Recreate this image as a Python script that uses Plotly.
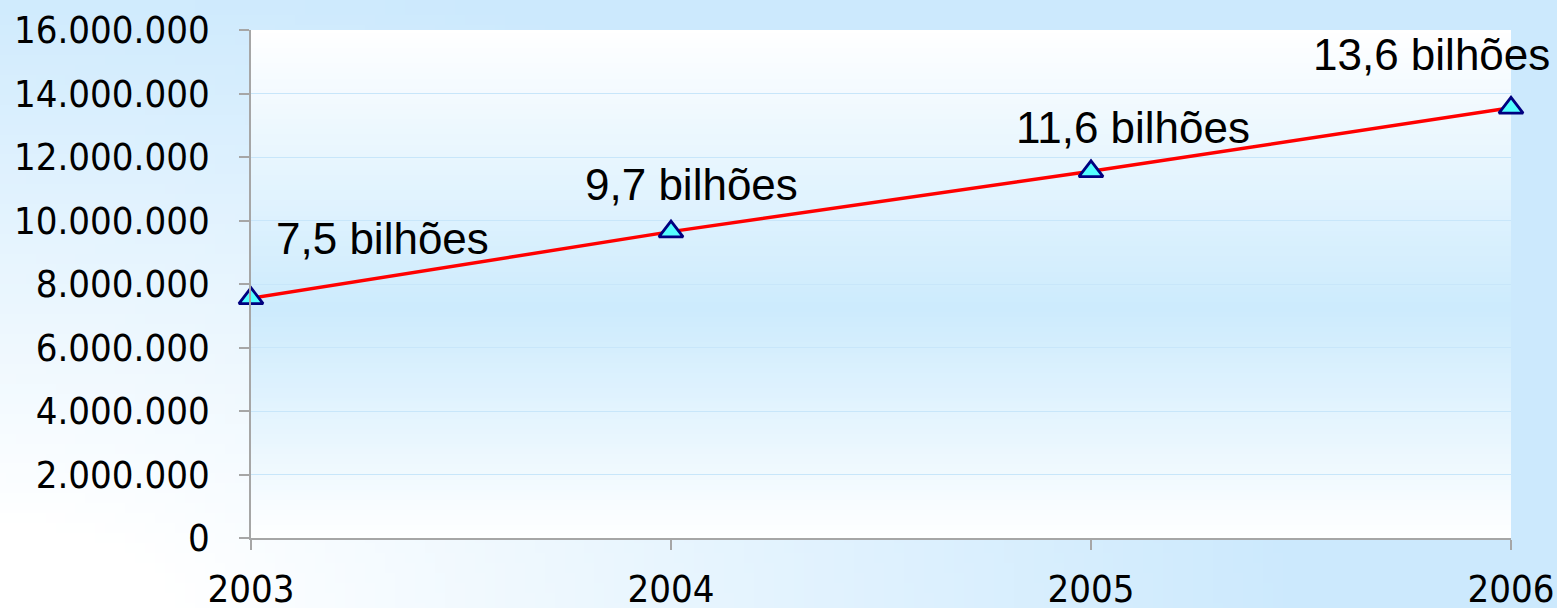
import base64, struct, zlib
import plotly.graph_objects as go

# ---- data ----
years = [2003, 2004, 2005, 2006]
values = [7550000, 9650000, 11550000, 13550000]
labels = ["7,5 bilhões", "9,7 bilhões", "11,6 bilhões", "13,6 bilhões"]
y_ticks = [0, 2000000, 4000000, 6000000, 8000000, 10000000, 12000000, 14000000, 16000000]

# ---- styling helpers ----
W, H = 1557, 608
ML, MR, MT, MB = 251, 46, 30, 70
PW, PH = W - ML - MR, H - MT - MB

BLUE = (204, 233, 253)
WHITE = (255, 255, 255)


def mix(c1, c2, t):
    return tuple(int(round(a + (b - a) * t)) for a, b in zip(c1, c2))


def png_uri(w, h, fn):
    raw = b""
    for j in range(h):
        row = b"\x00"
        for i in range(w):
            row += bytes(fn(i, j))
        raw += row

    def chunk(tag, data):
        c = struct.pack(">I", len(data)) + tag + data
        return c + struct.pack(">I", zlib.crc32(tag + data) & 0xFFFFFFFF)

    png = b"\x89PNG\r\n\x1a\n"
    png += chunk(b"IHDR", struct.pack(">IIBBBBB", w, h, 8, 2, 0, 0, 0))
    png += chunk(b"IDAT", zlib.compress(raw, 9))
    png += chunk(b"IEND", b"")
    return "data:image/png;base64," + base64.b64encode(png).decode()


# outer background: whitish at bottom-left, blue elsewhere
GW, GH = 156, 61
def outer(i, j):
    x = (i + 0.5) / GW * W
    y = (j + 0.5) / GH * H
    d = ((x / 1300.0) ** 2 + ((H - y) / 650.0) ** 2) ** 0.5
    t = max(0.0, 1.0 - d)
    return mix(BLUE, WHITE, min(1.0, t * 1.15))

# plot area: white at top, blue in the middle, white at bottom
PGH = 100
def inner(i, j):
    f = (j + 0.5) / PGH
    peak = 0.55
    if f < peak:
        t = 1.0 - f / peak
    else:
        t = (f - peak) / (1.0 - peak)
    return mix((205, 235, 253), WHITE, t)

outer_uri = png_uri(GW, GH, outer)
inner_uri = png_uri(2, PGH, inner)

fig = go.Figure()
fig.add_trace(go.Scatter(
    x=years, y=values, mode="lines+markers",
    line=dict(color="#ff0000", width=3.5),
    marker=dict(symbol="triangle-up", size=21, color="#55ffff",
                line=dict(color="#000080", width=2.8)),
    cliponaxis=False, showlegend=False, hoverinfo="skip",
))

# label offsets (pixels) relative to each point
shifts = [(131, 60), (20, 47), (42, 44), (-80, 53)]
for xv, yv, txt, (dx, dy) in zip(years, values, labels, shifts):
    fig.add_annotation(x=xv, y=yv, text=txt, showarrow=False,
                       xshift=dx, yshift=dy,
                       font=dict(family="Liberation Sans, Arial, sans-serif",
                                 size=44, color="#000000"))

tick_font = dict(family="DejaVu Sans Condensed, DejaVu Sans, sans-serif",
                 size=38, color="#000000")

fig.update_layout(
    width=W, height=H,
    margin=dict(l=ML, r=MR, t=MT, b=MB, autoexpand=False),
    paper_bgcolor="rgb(204,233,253)",
    plot_bgcolor="rgba(0,0,0,0)",
    separators=",.",
    images=[
        dict(source=outer_uri, xref="paper", yref="paper",
             x=-ML / PW, y=1 + MT / PH, sizex=W / PW, sizey=H / PH,
             xanchor="left", yanchor="top", sizing="stretch", layer="below"),
        dict(source=inner_uri, xref="paper", yref="paper",
             x=0, y=1, sizex=1, sizey=1,
             xanchor="left", yanchor="top", sizing="stretch", layer="below"),
    ],
    xaxis=dict(
        range=[2003, 2006], tickvals=years, ticktext=[str(y) for y in years],
        showgrid=False, zeroline=False,
        showline=True, linecolor="#a6a6a6", linewidth=1.5,
        ticks="outside", ticklen=10, tickwidth=1.5, tickcolor="#a6a6a6",
        tickfont=tick_font, ticklabelstandoff=7,
    ),
    yaxis=dict(
        range=[0, 16000000], tickvals=y_ticks, tickformat=",.0f",
        showgrid=True, gridcolor="rgb(200,230,250)", gridwidth=1,
        zeroline=False,
        showline=True, linecolor="#a6a6a6", linewidth=1.5,
        ticks="outside", ticklen=10, tickwidth=1.5, tickcolor="#a6a6a6",
        tickfont=tick_font, ticklabelstandoff=22,
    ),
)

fig.write_html("out.html",
               config={"displayModeBar": False},
               post_script="document.body.style.margin='0';document.body.style.overflow='hidden';")
